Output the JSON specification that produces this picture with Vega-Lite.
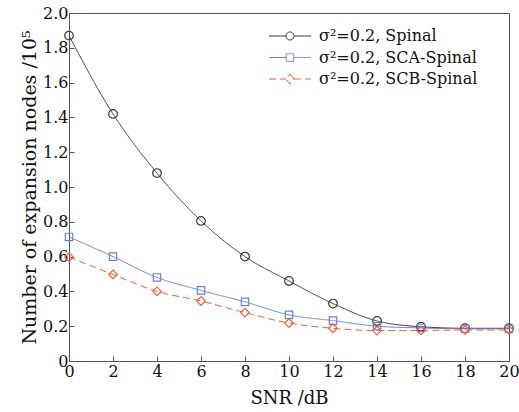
{
  "$schema": "https://vega.github.io/schema/vega-lite/v6.json",
  "width": 440,
  "height": 348,
  "autosize": {"type": "none"},
  "padding": {"left": 69, "top": 13, "right": 10, "bottom": 51},
  "background": "white",
  "config": {
    "view": {"stroke": "#555", "strokeWidth": 1},
    "font": "DejaVu Serif",
    "axis": {
      "grid": false,
      "domainColor": "#555",
      "tickColor": "#555",
      "tickSize": -5,
      "labelFont": "DejaVu Serif",
      "labelFontSize": 16,
      "labelColor": "#111",
      "titleFont": "DejaVu Serif",
      "titleFontSize": 18,
      "titleFontWeight": "normal",
      "titleColor": "#111"
    }
  },
  "data": {
    "values": [
      {"snr": 0, "s": "σ²=0.2, Spinal", "v": 1.87},
      {"snr": 2, "s": "σ²=0.2, Spinal", "v": 1.42},
      {"snr": 4, "s": "σ²=0.2, Spinal", "v": 1.08},
      {"snr": 6, "s": "σ²=0.2, Spinal", "v": 0.805},
      {"snr": 8, "s": "σ²=0.2, Spinal", "v": 0.6},
      {"snr": 10, "s": "σ²=0.2, Spinal", "v": 0.46},
      {"snr": 12, "s": "σ²=0.2, Spinal", "v": 0.33},
      {"snr": 14, "s": "σ²=0.2, Spinal", "v": 0.23},
      {"snr": 16, "s": "σ²=0.2, Spinal", "v": 0.197},
      {"snr": 18, "s": "σ²=0.2, Spinal", "v": 0.188},
      {"snr": 20, "s": "σ²=0.2, Spinal", "v": 0.188},
      {"snr": 0, "s": "σ²=0.2, SCA-Spinal", "v": 0.713},
      {"snr": 2, "s": "σ²=0.2, SCA-Spinal", "v": 0.6},
      {"snr": 4, "s": "σ²=0.2, SCA-Spinal", "v": 0.48},
      {"snr": 6, "s": "σ²=0.2, SCA-Spinal", "v": 0.406},
      {"snr": 8, "s": "σ²=0.2, SCA-Spinal", "v": 0.34},
      {"snr": 10, "s": "σ²=0.2, SCA-Spinal", "v": 0.265},
      {"snr": 12, "s": "σ²=0.2, SCA-Spinal", "v": 0.232},
      {"snr": 14, "s": "σ²=0.2, SCA-Spinal", "v": 0.2},
      {"snr": 16, "s": "σ²=0.2, SCA-Spinal", "v": 0.19},
      {"snr": 18, "s": "σ²=0.2, SCA-Spinal", "v": 0.185},
      {"snr": 20, "s": "σ²=0.2, SCA-Spinal", "v": 0.185},
      {"snr": 0, "s": "σ²=0.2, SCB-Spinal", "v": 0.597},
      {"snr": 2, "s": "σ²=0.2, SCB-Spinal", "v": 0.497},
      {"snr": 4, "s": "σ²=0.2, SCB-Spinal", "v": 0.4},
      {"snr": 6, "s": "σ²=0.2, SCB-Spinal", "v": 0.345},
      {"snr": 8, "s": "σ²=0.2, SCB-Spinal", "v": 0.278},
      {"snr": 10, "s": "σ²=0.2, SCB-Spinal", "v": 0.218},
      {"snr": 12, "s": "σ²=0.2, SCB-Spinal", "v": 0.188},
      {"snr": 14, "s": "σ²=0.2, SCB-Spinal", "v": 0.175},
      {"snr": 16, "s": "σ²=0.2, SCB-Spinal", "v": 0.176},
      {"snr": 18, "s": "σ²=0.2, SCB-Spinal", "v": 0.178},
      {"snr": 20, "s": "σ²=0.2, SCB-Spinal", "v": 0.178}
    ]
  },
  "encoding": {
    "x": {
      "field": "snr", "type": "quantitative",
      "scale": {"domain": [0, 20], "nice": false},
      "axis": {"title": "SNR /dB", "values": [0, 2, 4, 6, 8, 10, 12, 14, 16, 18, 20], "labelPadding": 7, "titlePadding": 10, "labelFlush": false}
    },
    "y": {
      "field": "v", "type": "quantitative",
      "scale": {"domain": [0, 2], "nice": false},
      "axis": {"title": "Number of expansion nodes /10⁵", "titleFontSize": 19, "values": [0, 0.2, 0.4, 0.6, 0.8, 1.0, 1.2, 1.4, 1.6, 1.8, 2.0], "labelExpr": "datum.value == 0 ? '0' : format(datum.value, '.1f')", "labelPadding": 6, "titlePadding": 3, "labelFlush": false}
    },
    "color": {
      "field": "s", "type": "nominal",
      "scale": {"domain": ["σ²=0.2, Spinal", "σ²=0.2, SCA-Spinal", "σ²=0.2, SCB-Spinal"], "range": ["#3a3a3a", "#6b7fd6", "#f25f3c"]},
      "legend": {
        "title": null,
        "orient": "none",
        "legendX": 229,
        "legendY": 15,
        "labelFont": "DejaVu Serif",
        "labelFontSize": 16,
        "labelColor": "#111",
        "symbolSize": 100,
        "symbolStrokeWidth": 1,
        "rowPadding": 5.5,
        "labelOffset": 5,
        "encode": {
          "symbols": {
            "enter": {
              "shape": {"signal": "datum.index == 0 ? 'M-7.4,0H-4M-2.4,0H1M-2.4,0A0.8,0.8 0 1 1 -4,0A0.8,0.8 0 1 1 -2.4,0Z' : (datum.index == 1 ? 'M-7.4,0H-3.95M-2.45,0H1M-3.95,-0.75H-2.45V0.75H-3.95Z' : 'M-7.4,0H-4M-2.4,0H1M-3.2,-1L-2.4,0L-3.2,1L-4,0Z')"}
            },
            "update": {
              "fill": {"value": "transparent"},
              "shape": {"signal": "datum.index == 0 ? 'M-7.4,0H-4M-2.4,0H1M-2.4,0A0.8,0.8 0 1 1 -4,0A0.8,0.8 0 1 1 -2.4,0Z' : (datum.index == 1 ? 'M-7.4,0H-3.95M-2.45,0H1M-3.95,-0.75H-2.45V0.75H-3.95Z' : 'M-7.4,0H-4M-2.4,0H1M-3.2,-1L-2.4,0L-3.2,1L-4,0Z')"}
            }
          }
        }
      }
    }
  },
  "layer": [
    {
      "mark": {"type": "line", "interpolate": "monotone", "strokeWidth": 1},
      "encoding": {
        "strokeDash": {
          "field": "s", "type": "nominal",
          "scale": {"domain": ["σ²=0.2, Spinal", "σ²=0.2, SCA-Spinal", "σ²=0.2, SCB-Spinal"], "range": [[1, 0], [1, 0], [7, 4]]},
          "legend": null
        }
      }
    },
    {
      "transform": [{"filter": "datum.s == 'σ²=0.2, Spinal'"}],
      "mark": {"type": "point", "shape": "circle", "filled": false, "strokeWidth": 1.2, "size": 75, "opacity": 1}
    },
    {
      "transform": [{"filter": "datum.s == 'σ²=0.2, SCA-Spinal'"}],
      "mark": {"type": "point", "shape": "square", "filled": false, "strokeWidth": 1.2, "size": 55, "opacity": 1}
    },
    {
      "transform": [{"filter": "datum.s == 'σ²=0.2, SCB-Spinal'"}],
      "mark": {"type": "point", "shape": "diamond", "filled": false, "strokeWidth": 1.2, "size": 75, "opacity": 1}
    }
  ]
}
